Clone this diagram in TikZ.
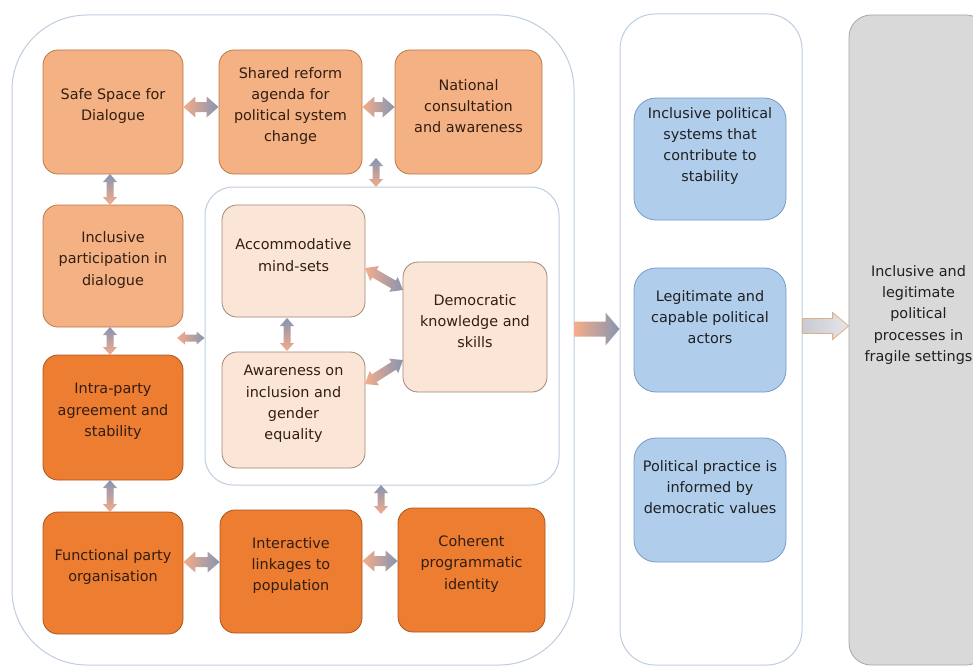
\documentclass[tikz,border=0pt]{standalone}
\usepackage{fontspec}
\setmainfont{DejaVu Sans}
\usetikzlibrary{calc}
\definecolor{lor}{RGB}{244,177,131}
\definecolor{lorD}{RGB}{190,120,75}
\definecolor{dor}{RGB}{237,125,49}
\definecolor{dorD}{RGB}{170,85,30}
\definecolor{pal}{RGB}{251,229,214}
\definecolor{palD}{RGB}{160,135,118}
\definecolor{blu}{RGB}{176,206,236}
\definecolor{bluD}{RGB}{120,155,195}
\definecolor{gry}{RGB}{217,217,217}
\definecolor{gryD}{RGB}{160,168,178}
\definecolor{cont}{RGB}{190,206,224}
\definecolor{ao}{RGB}{246,172,138}
\definecolor{ab}{RGB}{133,149,178}
\definecolor{tbrown}{RGB}{50,30,18}
\definecolor{tdark}{RGB}{32,32,32}
\definecolor{ga1}{RGB}{200,202,212}
\definecolor{ga2}{RGB}{230,230,232}
\definecolor{gaD}{RGB}{224,176,132}
% box with text: name, box style, text style, x1, y1, x2, y2, text
\newcommand\bx[8]{%
  \pgfmathsetmacro\bxw{#6-#4}\pgfmathsetmacro\bxh{#7-#5}%
  \pgfmathsetmacro\bxx{(#4+#6)/2}\pgfmathsetmacro\bxy{(#5+#7)/2}%
  \node[#2, minimum width=\bxw pt, minimum height=\bxh pt] (#1) at (\bxx,\bxy) {};
  \node[#3] (#1-t) at (#1.center) {#8};}
% container: name, style, radius, x1, y1, x2, y2
\newcommand\cbx[7]{%
  \pgfmathsetmacro\bxw{#6-#4}\pgfmathsetmacro\bxh{#7-#5}%
  \pgfmathsetmacro\bxx{(#4+#6)/2}\pgfmathsetmacro\bxy{(#5+#7)/2}%
  \node[#2, rounded corners=#3, minimum width=\bxw pt, minimum height=\bxh pt] (#1) at (\bxx,\bxy) {};}
% double block arrow: [style]{A}{B}{shaft half}{head half}{head length}
\newcommand\dbl[6][]{%
  \path[#1] (#2)
   -- ($(#2)!#6!(#3)!#5!90:(#3)$)
   -- ($(#2)!#6!(#3)!#4!90:(#3)$)
   -- ($(#3)!#6!(#2)!#4!-90:(#2)$)
   -- ($(#3)!#6!(#2)!#5!-90:(#2)$)
   -- (#3)
   -- ($(#3)!#6!(#2)!#5!90:(#2)$)
   -- ($(#3)!#6!(#2)!#4!90:(#2)$)
   -- ($(#2)!#6!(#3)!#4!-90:(#3)$)
   -- ($(#2)!#6!(#3)!#5!-90:(#3)$)
   -- cycle;}
% single block arrow
\newcommand\sgl[6][]{%
  \path[#1] ($(#2)!#4!90:(#3)$)
   -- ($(#3)!#6!(#2)!#4!-90:(#2)$)
   -- ($(#3)!#6!(#2)!#5!-90:(#2)$)
   -- (#3)
   -- ($(#3)!#6!(#2)!#5!90:(#2)$)
   -- ($(#3)!#6!(#2)!#4!90:(#2)$)
   -- ($(#2)!#4!-90:(#3)$)
   -- cycle;}
\begin{document}
\begin{tikzpicture}[x=1pt,y=-1pt,
  box/.style={draw, line width=0.8pt, rounded corners=15pt, inner sep=0pt},
  lobox/.style={box, fill=lor, draw=lorD},
  dobox/.style={box, fill=dor, draw=dorD},
  pabox/.style={box, fill=pal, draw=palD},
  blbox/.style={box, fill=blu, draw=bluD, rounded corners=22pt},
  grbox/.style={box, fill=gry, draw=gryD, rounded corners=22pt},
  contbox/.style={draw=cont, line width=1pt, inner sep=0pt},
  txt/.style={align=center, font=\fontsize{14.4}{21.3}\selectfont, text=tbrown, inner sep=0pt, yshift=6pt},
  txtb/.style={txt, text=tdark, yshift=7pt},
  txtg/.style={txt, text=tdark, yshift=19pt},
  harr/.style={left color=ao, middle color=ao!80!ab, right color=ab},
  varr/.style={top color=ab, middle color=ao!80!ab, bottom color=ao},
  garr/.style={left color=ga1, right color=ga2, draw=gaD, line width=0.8pt}]
\useasboundingbox (0,0) rectangle (973,669);
\clip (0,0) rectangle (973,669);
\fill[white] (0,0) rectangle (973,669);
% containers
\cbx{big}{contbox}{75pt}{12}{15}{574}{665}
\cbx{mid}{contbox}{35pt}{620}{14}{802}{665}
\cbx{inner}{contbox}{28pt}{205}{187}{559}{485}
% orange boxes
\bx{safe}{lobox}{txt}{43}{50}{183}{174}{Safe Space for\\Dialogue}
\bx{shared}{lobox}{txt}{219}{50}{362}{174}{Shared reform\\agenda for\\political system\\change}
\bx{national}{lobox}{txt}{395}{50}{542}{174}{National\\consultation\\and awareness}
\bx{incl}{lobox}{txt}{43}{205}{183}{327}{Inclusive\\participation in\\dialogue}
\bx{intra}{dobox}{txt}{43}{355}{183}{480}{Intra-party\\agreement and\\stability}
\bx{func}{dobox}{txt}{43}{512}{183}{634}{Functional party\\organisation}
\bx{inter}{dobox}{txt}{220}{510}{362}{633}{Interactive\\linkages to\\population}
\bx{coh}{dobox}{txt}{398}{508}{545}{632}{Coherent\\programmatic\\identity}
% inner boxes
\bx{acc}{pabox}{txt}{222}{205}{365}{317}{Accommodative\\mind-sets}
\bx{aware}{pabox}{txt}{222}{352}{365}{468}{Awareness on\\inclusion and\\gender\\equality}
\bx{dem}{pabox}{txt}{403}{262}{547}{392}{Democratic\\knowledge and\\skills}
% outcome boxes
\bx{out1}{blbox}{txtb}{634}{98}{786}{220}{Inclusive political\\systems that\\contribute to\\stability}
\bx{out2}{blbox}{txtb}{634}{268}{786}{392}{Legitimate and\\capable political\\actors}
\bx{out3}{blbox}{txtb}{634}{438}{786}{562}{Political practice is\\informed by\\democratic values}
\bx{goal}{grbox}{txtg}{849}{15}{988}{665}{Inclusive and\\legitimate\\political\\processes in\\fragile settings}
% arrow end points
\coordinate (a1s) at (safe.east |- 0,107);   \coordinate (a1e) at (shared.west |- 0,107);
\coordinate (a2s) at (shared.east |- 0,107); \coordinate (a2e) at (national.west |- 0,107);
\coordinate (a3s) at (376,158);              \coordinate (a3e) at (376,187);
\coordinate (a4s) at (110,174);              \coordinate (a4e) at (110,205);
\coordinate (a5s) at (110,327);              \coordinate (a5e) at (110,355);
\coordinate (a6s) at (110,480);              \coordinate (a6e) at (110,512);
\coordinate (a7s) at (177,338);              \coordinate (a7e) at (inner.west |- 0,338);
\coordinate (a8s) at (381,485);              \coordinate (a8e) at (381,514);
\coordinate (a9s) at (func.east |- 0,562);   \coordinate (a9e) at (inter.west |- 0,562);
\coordinate (a10s) at (inter.east |- 0,561); \coordinate (a10e) at (coh.west |- 0,561);
\coordinate (a11s) at (287,318);             \coordinate (a11e) at (287,351);
\coordinate (a12s) at (365,268);             \coordinate (a12e) at (403,290);
\coordinate (a13s) at (365,384);             \coordinate (a13e) at (403,360);
\coordinate (b1s) at (big.east |- 0,329);    \coordinate (b1e) at (mid.west |- 0,329);
\coordinate (b2s) at (mid.east |- 0,326);    \coordinate (b2e) at (goal.west |- 0,326);
% arrows
\dbl[harr]{a1s}{a1e}{5pt}{10.5pt}{12pt}
\dbl[harr]{a2s}{a2e}{5pt}{10.5pt}{12pt}
\dbl[harr]{a9s}{a9e}{5pt}{10.5pt}{12pt}
\dbl[harr]{a10s}{a10e}{5pt}{10.5pt}{12pt}
\dbl[varr]{a3s}{a3e}{3.5pt}{7pt}{8pt}
\dbl[varr]{a4s}{a4e}{3.5pt}{7pt}{8pt}
\dbl[varr]{a5s}{a5e}{3.5pt}{7pt}{8pt}
\dbl[varr]{a6s}{a6e}{3.5pt}{7pt}{8pt}
\dbl[varr]{a8s}{a8e}{3.5pt}{7pt}{8pt}
\dbl[varr]{a11s}{a11e}{3.5pt}{7pt}{8pt}
\dbl[harr]{a7s}{a7e}{3.5pt}{6.5pt}{8pt}
\dbl[harr]{a12s}{a12e}{4.5pt}{8.5pt}{11pt}
\dbl[harr]{a13s}{a13e}{4.5pt}{8.5pt}{11pt}
\sgl[harr]{b1s}{b1e}{7.5pt}{16.5pt}{14pt}
\sgl[garr]{b2s}{b2e}{7.5pt}{13.5pt}{16pt}
\end{tikzpicture}
\end{document}
